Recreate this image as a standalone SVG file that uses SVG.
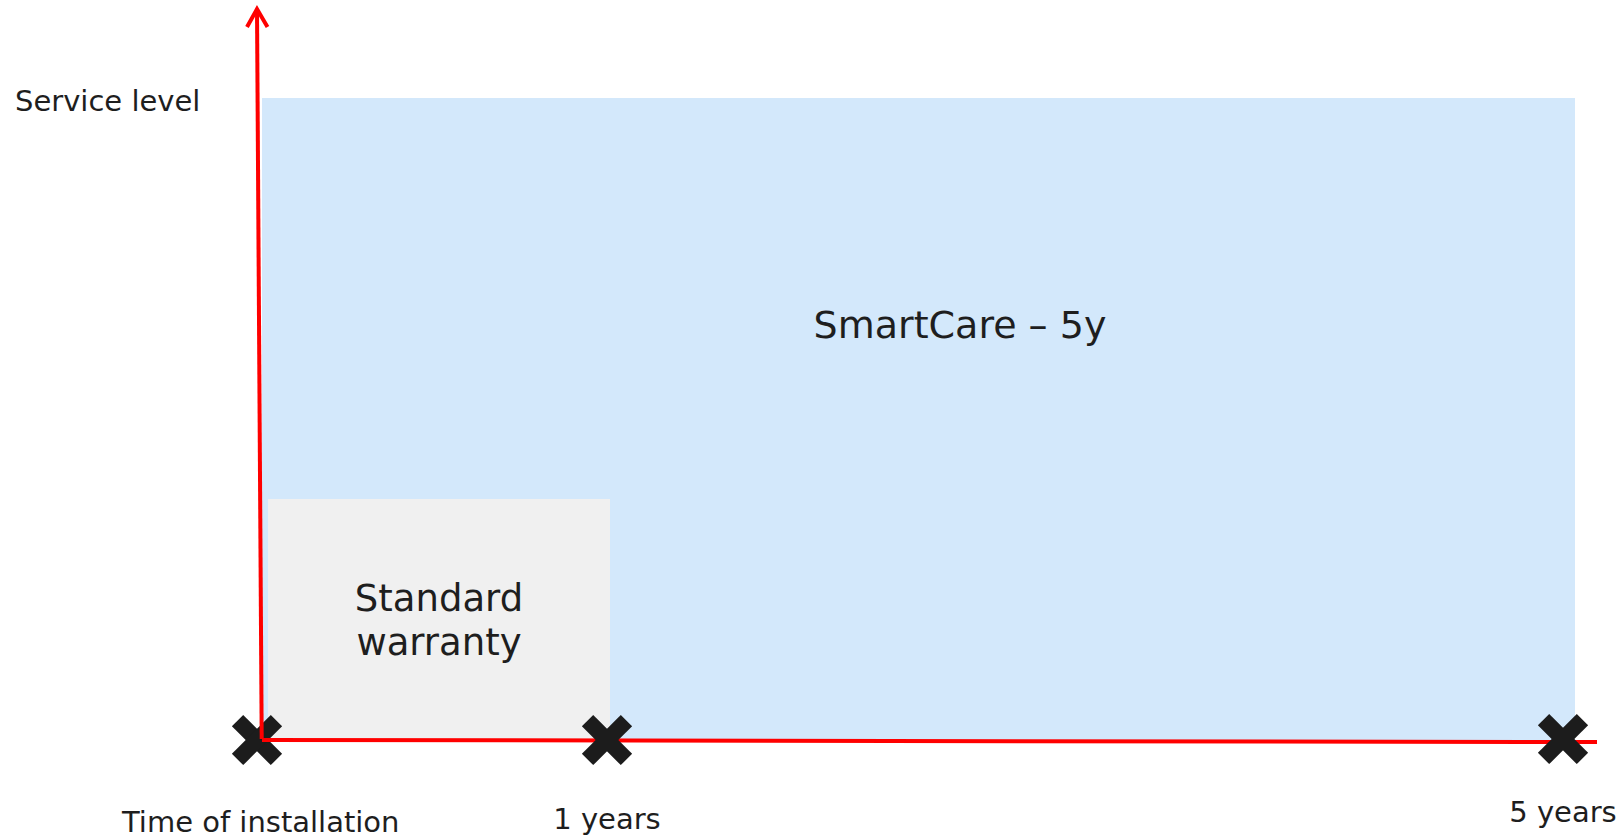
<svg xmlns="http://www.w3.org/2000/svg" width="1621" height="836" viewBox="0 0 1621 836">
<defs>
<style>
text{font-family:"DejaVu Sans","Verdana",sans-serif;fill:#1e1e1e}
.axis{stroke:#ff0000;stroke-width:4;fill:none}
.xm{fill:#1c1c1c}
</style>
<g id="xshape" class="xm">
<rect x="-27.5" y="-8" width="55" height="16" transform="rotate(45)"/>
<rect x="-27.5" y="-8" width="55" height="16" transform="rotate(-45)"/>
</g>
</defs>
<rect width="1621" height="836" fill="#ffffff"/>
<g id="smartcare">
<rect x="262" y="98" width="1313" height="643" fill="#d3e8fb"/>
<text x="960" y="338" font-size="38" text-anchor="middle">SmartCare – 5y</text>
</g>
<g id="standard-warranty">
<rect x="268" y="499" width="342" height="242" fill="#f0f0f0"/>
<text x="439" y="611" font-size="37" text-anchor="middle">Standard</text>
<text x="439" y="655" font-size="37" text-anchor="middle">warranty</text>
</g>
<g id="marker-start"><use href="#xshape" x="257" y="740"/></g>
<g id="connectors">
<path class="axis" d="M257 9 L261.7 739"/>
<path class="axis" d="M247 27 L257 9 L267.5 27"/>
<path class="axis" d="M262 740 L1597 742"/>
</g>
<g id="marker-1y"><use href="#xshape" x="607" y="740"/></g>
<g id="marker-5y"><use href="#xshape" x="1563" y="739"/></g>
<g id="labels">
<text x="15" y="111" font-size="29">Service level</text>
<text x="122" y="832" font-size="29">Time of installation</text>
<text x="607" y="829" font-size="29" text-anchor="middle">1 years</text>
<text x="1563" y="822" font-size="29" text-anchor="middle">5 years</text>
</g>
</svg>
